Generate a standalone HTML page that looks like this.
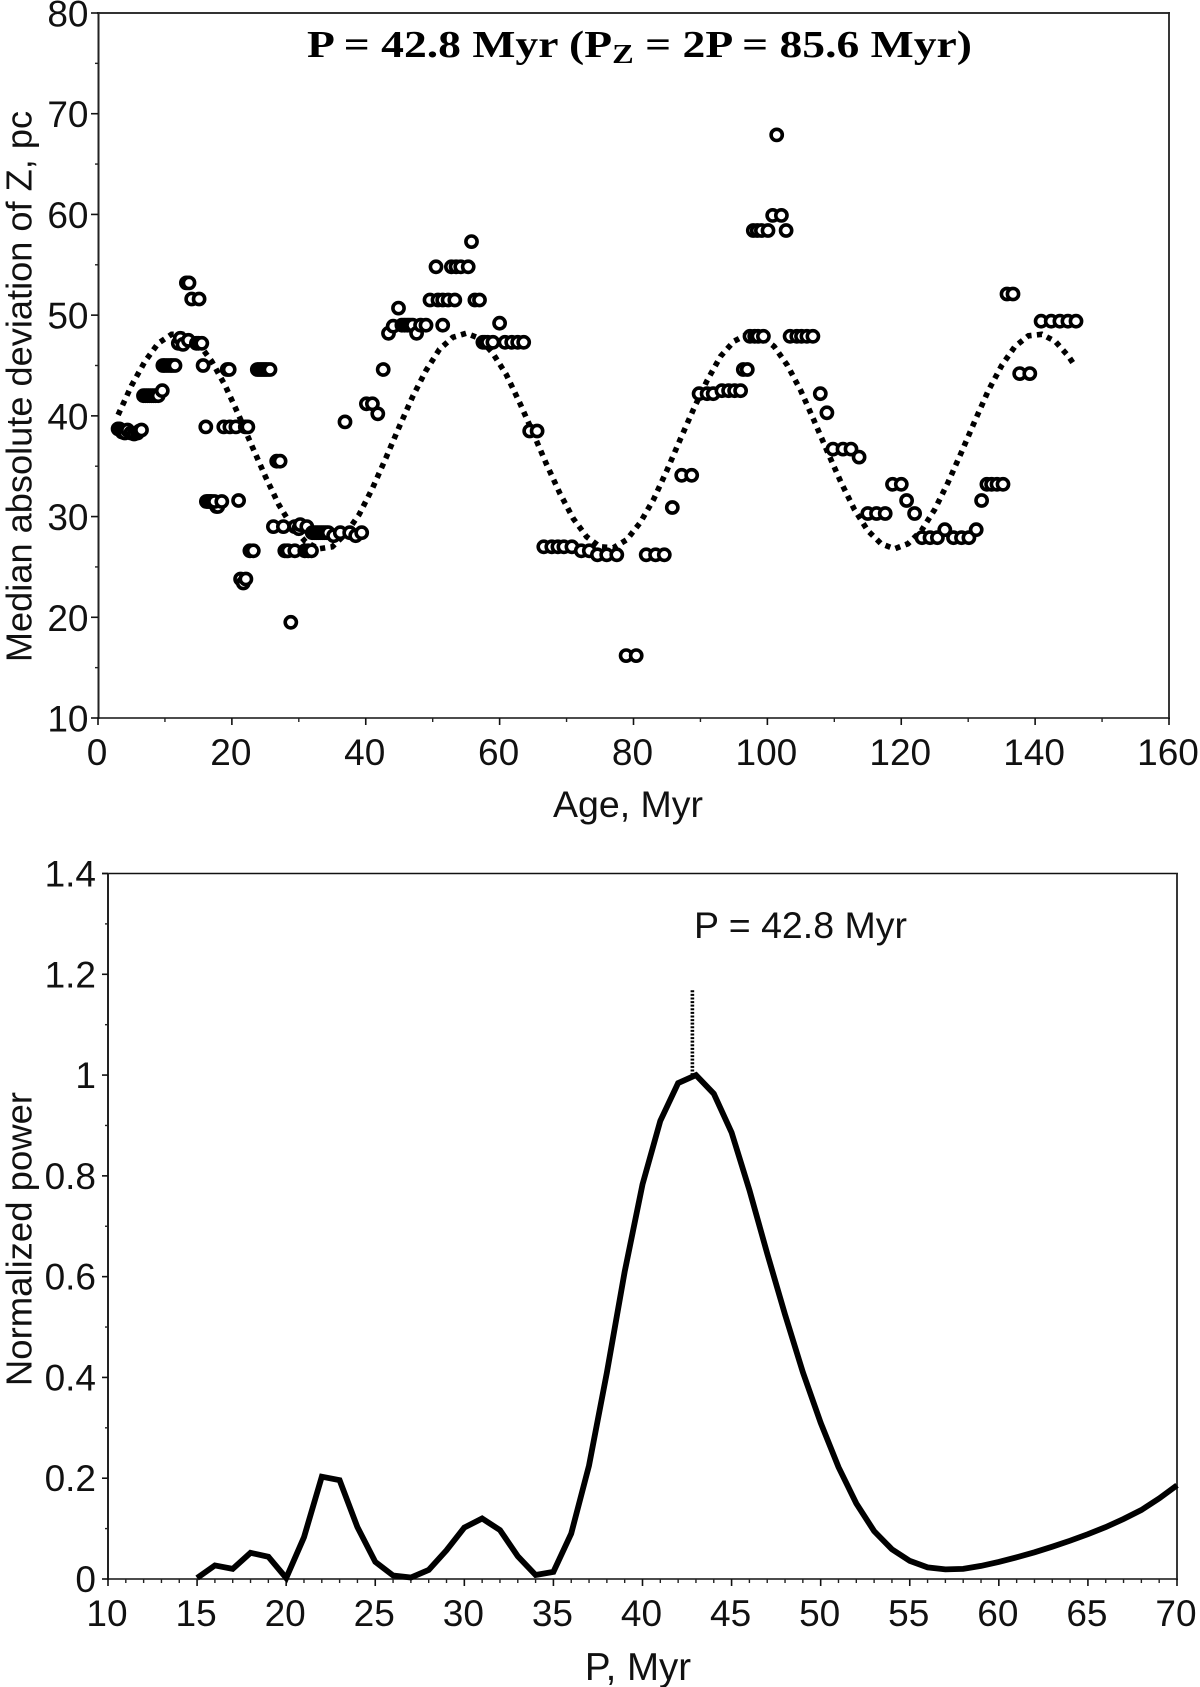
<!DOCTYPE html>
<html lang="en">
<head>
<meta charset="utf-8">
<title>Median absolute deviation of Z and normalized power</title>
<style>
html,body{margin:0;padding:0;background:#fff;}
svg{display:block;}
text{font-family:"Liberation Sans",sans-serif;fill:#111;}
.tick-label{font-size:37px;}
.axis-title{font-size:36.5px;}
</style>
</head>
<body>
<svg id="figure" xmlns="http://www.w3.org/2000/svg" width="1200" height="1687" viewBox="0 0 1200 1687">
  <rect x="0" y="0" width="1200" height="1687" fill="#fff"/>

  <g id="top-chart">
    <g id="top-axes"></g>
    <polyline id="top-curve" fill="none" stroke="#000" stroke-width="5.6" stroke-dasharray="5.2 5.4"></polyline>
    <g id="top-points"></g>
    <text x="307" y="57" font-size="38" font-weight="700" textLength="665" lengthAdjust="spacingAndGlyphs" style="font-family:'Liberation Serif',serif;fill:#000">P = 42.8 Myr (P<tspan dy="6" font-size="27">Z</tspan><tspan dy="-6"> = 2P = 85.6 Myr)</tspan></text>
    <text class="axis-title" transform="translate(31.5 386.5) rotate(-90)" text-anchor="middle" style="font-size:36.2px">Median absolute deviation of Z, pc</text>
    <text class="axis-title" x="628" y="817" text-anchor="middle" style="font-size:37.5px">Age, Myr</text>
  </g>

  <g id="bottom-chart">
    <g id="bottom-axes"></g>
    <line id="peak-marker" stroke="#000" stroke-width="3.6" stroke-dasharray="2 1.6"></line>
    <polyline id="power-line" fill="none" stroke="#000" stroke-width="5.8" stroke-linejoin="miter"></polyline>
    <text x="694" y="938" style="font-size:37.5px">P = 42.8 Myr</text>
    <text class="axis-title" transform="translate(31.5 1239) rotate(-90)" text-anchor="middle">Normalized power</text>
    <text class="axis-title" x="638" y="1680" text-anchor="middle" style="font-size:38.5px">P, Myr</text>
  </g>
</svg>

<script>
// ---- top chart data ----
const pointAges = [
  3,3.2,3.4,3.6,4,4.4,4.9,5.4,5.9,6.2,6.5,
  6.8,7.1,7.4,7.7,8,8.3,8.6,9,9.6,
  9.7,10,10.4,10.8,11.1,11.5,
  12,12.3,12.7,13.5,14.7,15,15.5,
  13.2,13.6,14,15.1,
  15.7,
  16.1,18.8,19.7,20.6,22,22.4,
  17.7,17.9,16.2,16.4,16.6,16.8,17,17.4,18.5,
  19.3,19.6,
  21,
  21.3,21.7,22.1,
  22.7,23.2,
  23.8,24.1,24.4,24.7,25,25.3,25.7,
  26.2,26.7,27.2,27.7,
  27.9,28.2,28.4,28.8,29.4,
  29.4,30,30.2,31.2,
  30.9,31.4,31.9,
  32,32.3,32.6,32.9,33.2,33.5,33.8,34.1,34.4,35.2,36.2,36.9,37.6,38.5,39.4,
  40.1,41,41.8,42.6,43.4,44.1,44.9,
  45.4,45.8,46.2,46.6,47,47.6,48.2,49,51.5,
  49.6,50.8,51.5,52.3,53.3,
  50.5,52.8,53.5,54.2,55.3,
  55.8,56.3,57,
  57.5,57.8,58.2,59,60,60.8,61.8,62.7,63.6,
  64.5,65.6,
  66.6,67.8,68.7,69.6,70.8,72.2,73.4,
  74.6,76,77.5,78.9,80.4,81.9,83.3,84.6,
  85.8,87.2,88.7,
  89.8,91,91.9,93.2,94.2,95.1,96,
  96.4,97,
  97.4,98.1,98.6,99.4,
  97.9,98.5,99.1,100.1,
  100.8,102.1,101.4,102.8,
  103.4,104.4,105.1,105.9,106.8,
  107.9,108.9,109.8,111.3,112.5,113.7,
  115,116.3,117.6,118.7,120,120.8,122,
  123.1,124.3,125.4,126.5,127.8,129,130.1,131.2,132,
  132.8,133.5,134.3,135.2,135.8,136.7,137.7,139.2,
  140.9,142.4,143.7,144.9,146.1
];
const pointValues = [
  38.7,38.7,38.6,38.4,38.3,38.6,38.3,38.2,38.3,38.5,38.6,
  42,42,42,42,42,42,42,42,42.5,
  45,45,45,45,45,45,
  47.2,47.7,47.1,47.5,47.2,47.2,47.2,
  53.2,53.2,51.6,51.6,
  45,
  38.9,38.9,38.9,38.9,38.9,38.9,
  31,31,31.5,31.5,31.5,31.5,31.5,31.5,31.5,
  44.6,44.6,
  31.6,
  23.8,23.4,23.8,
  26.6,26.6,
  44.6,44.6,44.6,44.6,44.6,44.6,44.6,
  29,35.5,35.5,29,
  26.6,26.6,26.6,19.5,26.6,
  29,28.8,29.2,29,
  26.6,26.6,26.6,
  28.4,28.4,28.4,28.4,28.4,28.4,28.4,28.4,28.4,28.1,28.4,39.4,28.4,28.1,28.4,
  41.2,41.2,40.2,44.6,48.2,48.9,50.7,
  49,49,49,49,49,48.2,49,49,49,
  51.5,51.5,51.5,51.5,51.5,
  54.8,54.8,54.8,54.8,54.8,
  57.3,51.5,51.5,
  47.3,47.3,47.3,47.3,49.2,47.3,47.3,47.3,47.3,
  38.5,38.5,
  27,27,27,27,27,26.6,26.6,
  26.2,26.2,26.2,16.2,16.2,26.2,26.2,26.2,
  30.9,34.1,34.1,
  42.2,42.2,42.2,42.5,42.5,42.5,42.5,
  44.6,44.6,
  47.9,47.9,47.9,47.9,
  58.4,58.4,58.4,58.4,
  59.9,59.9,67.9,58.4,
  47.9,47.9,47.9,47.9,47.9,
  42.2,40.3,36.7,36.7,36.7,35.9,
  30.3,30.3,30.3,33.2,33.2,31.6,30.3,
  27.9,27.9,27.9,28.7,27.9,27.9,27.9,28.7,31.6,
  33.2,33.2,33.2,33.2,52.1,52.1,44.2,44.2,
  49.4,49.4,49.4,49.4,49.4
];
const curveAges = [
  3,5,7,9,11,13,15,17,19,21,23,25,27,29,31,33,35,37,39,41,43,45,47,49,51,53,55,57,59,61,63,65,67,69,71,73,
  75,77,79,81,83,85,87,89,91,93,95,97,99,101,103,105,107,109,111,113,115,117,119,121,123,125,127,129,131,133,
  135,137,139,141,143,145,146
];
const curveValues = [
  40.1,43,45.4,47.2,48.1,48.1,47.2,45.4,43,40.1,37,34,31.2,29,27.5,26.8,27,28.3,30.2,32.8,35.8,38.9,41.9,44.5,46.6,47.8,48.2,47.7,46.2,44.1,41.3,38.3,35.2,32.3,29.8,28,
  27,26.9,27.7,29.4,31.7,34.6,37.7,40.7,43.5,45.9,47.4,48.1,47.95,46.9,45,42.5,39.5,36.4,33.4,30.7,28.6,27.3,26.8,27.3,28.6,30.7,33.4,36.4,39.5,42.5,
  45,46.9,47.95,48.1,47.4,45.9,44.9
];
const ageTicks = [0,20,40,60,80,100,120,140,160];
const ageMinorTicks = [10,30,50,70,90,110,130,150];
const ageTickLabels = ["0","20","40","60","80","100","120","140","160"];
const deviationTicks = [10,20,30,40,50,60,70,80];
const deviationMinorTicks = [15,25,35,45,55,65,75];
const deviationTickLabels = ["10","20","30","40","50","60","70","80"];

// ---- bottom chart data ----
const periods = [
  15,16,17,18,19,20,21,22,23,24,25,26,27,28,29,30,31,32,33,34,35,36,37,38,39,40,41,42,43,
  44,45,46,47,48,49,50,51,52,53,54,55,56,57,58,59,60,61,62,63,64,65,66,67,68,69,70
];
const powers = [
  0.002,0.027,0.02,0.052,0.044,0.002,0.083,0.203,0.196,0.103,0.034,0.007,0.003,0.018,0.057,0.102,0.12,0.097,0.045,0.008,0.014,0.09,0.225,0.41,0.61,0.783,0.909,0.984,1,
  0.963,0.886,0.772,0.646,0.525,0.41,0.31,0.222,0.15,0.095,0.059,0.036,0.023,0.019,0.02,0.026,0.034,0.043,0.053,0.064,0.076,0.089,0.103,0.119,0.137,0.16,0.186
];
const periodTicks = [10,15,20,25,30,35,40,45,50,55,60,65,70];
const periodTickLabels = ["10","15","20","25","30","35","40","45","50","55","60","65","70"];
const powerTicks = [0,0.2,0.4,0.6,0.8,1,1.2,1.4];
const powerMinorTicks = [0.1,0.3,0.5,0.7,0.9,1.1,1.3];
const powerTickLabels = ["0","0.2","0.4","0.6","0.8","1","1.2","1.4"];
const peakPeriod = [42.8];
const peakMarkerRange = [1, 1.169];

// ---- scales ----
const SVG_NS = "http://www.w3.org/2000/svg";
const topX = a => 98 + (a - 0) * (1169 - 98) / 160;
const topY = v => 718 - (v - 10) * (718 - 13) / 70;
const botX = p => 108 + (p - 10) * (1177 - 108) / 60;
const botY = w => 1579 - w * (1579 - 873.5) / 1.4;

function drawLine(parent, x1, y1, x2, y2, width, color, name) {
  const el = document.createElementNS(SVG_NS, "line");
  el.setAttribute("x1", x1);
  el.setAttribute("y1", y1);
  el.setAttribute("x2", x2);
  el.setAttribute("y2", y2);
  el.setAttribute("stroke", color);
  el.setAttribute("stroke-width", width);
  
  
  parent.appendChild(el);
}
function drawLabel(parent, x, y, anchor, content, name) {
  const el = document.createElementNS(SVG_NS, "text");
  el.setAttribute("x", x);
  el.setAttribute("y", y);
  el.setAttribute("text-anchor", anchor);
  el.setAttribute("class", "tick-label");
  
  
  el.textContent = content;
  parent.appendChild(el);
}

// ---- top axes ----
const topAxes = document.getElementById("top-axes");
drawLine(topAxes, 97, 13, 1170, 13, 2, "#333", "top-plot-top-border");
drawLine(topAxes, 98.5, 12, 98.5, 719, 2, "#222", "top-plot-y-axis");
drawLine(topAxes, 97, 718, 1170, 718, 1.6, "#111", "top-plot-x-axis");
drawLine(topAxes, 1169, 12, 1169, 719, 1.8, "#222", "top-plot-right-border");
ageTicks.forEach((t, i) => {
  drawLine(topAxes, topX(t), 718, topX(t), 725, 1.6, "#111", "age-tick-" + t);
  drawLabel(topAxes, topX(t) - 1, 765, "middle", ageTickLabels[i], "age-tick-label-" + t);
});
ageMinorTicks.forEach(t => {
  drawLine(topAxes, topX(t), 718, topX(t), 722, 1.4, "#222", "age-minor-tick-" + t);
});
deviationTicks.forEach((t, i) => {
  drawLine(topAxes, 91, topY(t), 98, topY(t), 1.6, "#111", "deviation-tick-" + t);
  drawLabel(topAxes, 88.5, topY(t) + 13.5, "end", deviationTickLabels[i], "deviation-tick-label-" + t);
});
deviationMinorTicks.forEach(t => {
  drawLine(topAxes, 95, topY(t), 98, topY(t), 1.4, "#222", "deviation-minor-tick-" + t);
});

// ---- top curve and points ----
document.getElementById("top-curve").setAttribute(
  "points", curveAges.map((a, i) => topX(a).toFixed(1) + "," + topY(curveValues[i]).toFixed(1)).join(" ")
);
const pointGroup = document.getElementById("top-points");
pointAges.forEach((a, i) => {
  const c = document.createElementNS(SVG_NS, "circle");
  c.setAttribute("cx", topX(a).toFixed(1));
  c.setAttribute("cy", topY(pointValues[i]).toFixed(1));
  c.setAttribute("r", "5.6");
  c.setAttribute("fill", "#fff");
  c.setAttribute("stroke", "#000");
  c.setAttribute("stroke-width", "3.6");
  
  
  pointGroup.appendChild(c);
});

// ---- bottom axes ----
const bottomAxes = document.getElementById("bottom-axes");
drawLine(bottomAxes, 102, 873.5, 1178, 873.5, 1.6, "#111", "bottom-plot-top-border");
drawLine(bottomAxes, 108, 873, 108, 1580, 2, "#222", "bottom-plot-y-axis");
drawLine(bottomAxes, 107, 1579, 1178, 1579, 1.6, "#111", "bottom-plot-x-axis");
drawLine(bottomAxes, 1177, 873, 1177, 1580, 1.8, "#222", "bottom-plot-right-border");
periodTicks.forEach((t, i) => {
  drawLine(bottomAxes, botX(t), 1579, botX(t), 1586, 1.6, "#111", "period-tick-" + t);
  drawLabel(bottomAxes, botX(t) - 1, 1626, "middle", periodTickLabels[i], "period-tick-label-" + t);
});
for (let p = periodTicks[0]; p <= periodTicks[periodTicks.length - 1]; p++) {
  if (p % 5 !== 0) {
    drawLine(bottomAxes, botX(p), 1579, botX(p), 1583, 1.4, "#222", "period-minor-tick-" + p);
  }
}
powerTicks.forEach((t, i) => {
  drawLine(bottomAxes, 102, botY(t), 108, botY(t), 1.6, "#111", "power-tick-" + t);
  drawLabel(bottomAxes, 96, botY(t) + 13, "end", powerTickLabels[i], "power-tick-label-" + t);
});
powerMinorTicks.forEach(t => {
  drawLine(bottomAxes, 105, botY(t), 108, botY(t), 1.4, "#222", "power-minor-tick-" + t);
});

// ---- bottom series ----
document.getElementById("power-line").setAttribute(
  "points", periods.map((p, i) => botX(p).toFixed(1) + "," + botY(powers[i]).toFixed(1)).join(" ")
);
const peakMarker = document.getElementById("peak-marker");
peakMarker.setAttribute("x1", botX(peakPeriod[0]));
peakMarker.setAttribute("x2", botX(peakPeriod[0]));
peakMarker.setAttribute("y1", botY(peakMarkerRange[0]));
peakMarker.setAttribute("y2", botY(peakMarkerRange[1]));
</script>
</body>
</html>
